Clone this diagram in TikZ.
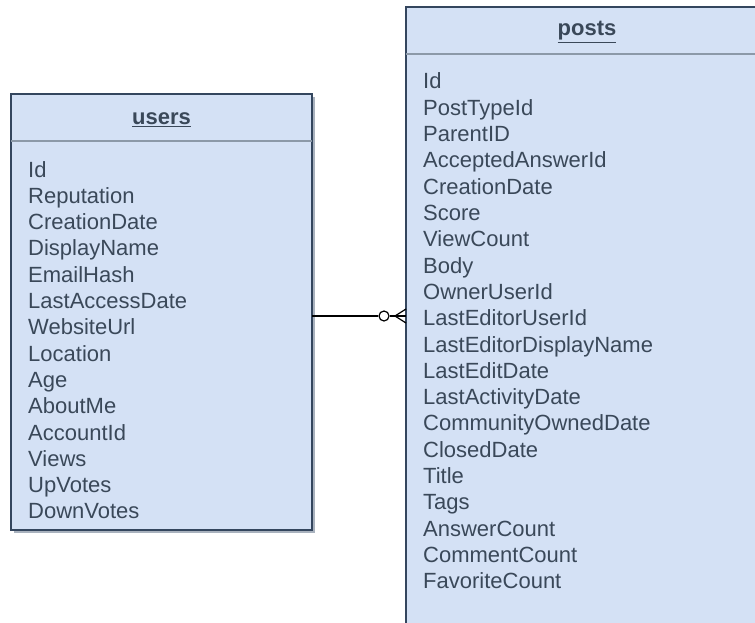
\documentclass[tikz,border=0pt]{standalone}
\usepackage{fontspec}
\setmainfont{Liberation Sans}
\definecolor{boxfill}{HTML}{D4E1F5}
\definecolor{boxborder}{HTML}{34465E}
\definecolor{sepline}{HTML}{8C99A8}
\definecolor{txt}{HTML}{3A4859}
\definecolor{shadowc}{HTML}{A9B2BE}
\begin{document}
\begin{tikzpicture}[x=1pt,y=-1pt,
  entity/.style={draw=boxborder,line width=1.6pt,fill=boxfill},
  sep/.style={draw=sepline,line width=1.4pt},
  field/.style={anchor=base west,inner sep=0pt,text=txt,font=\fontsize{22}{26}\selectfont},
  title/.style={anchor=base,inner sep=0pt,text=txt,font=\fontsize{22}{26}\selectfont\bfseries},
  conn/.style={draw=black,line width=1.2pt}]
\useasboundingbox (0,0) rectangle (755,623);
\clip (0,0) rectangle (755,623);
\fill (0,0) rectangle (755,623) [white];
% users table
\fill[shadowc] (14,97) rectangle (315,533);
\draw[entity] (11,94) rectangle (312,530);
\coordinate (uR) at (312,316);
\draw[sep] (11,141) -- (312,141);
\node[title] (ut) at (161.5,125) {\underline{users}};
\foreach \t [count=\i] in {Id,Reputation,CreationDate,DisplayName,EmailHash,LastAccessDate,WebsiteUrl,Location,Age,AboutMe,AccountId,Views,UpVotes,DownVotes}
  \node[field] (u\i) at (28,{177+26.3*(\i-1)}) {\t};
% posts table
\draw[entity] (406,7) rectangle (768,640);
\coordinate (pL) at (406,316);
\draw[sep] (406,54) -- (768,54);
\node[title] (pt) at (587,36) {\underline{posts}};
\foreach \t [count=\i] in {Id,PostTypeId,ParentID,AcceptedAnswerId,CreationDate,Score,ViewCount,Body,OwnerUserId,LastEditorUserId,LastEditorDisplayName,LastEditDate,LastActivityDate,CommunityOwnedDate,ClosedDate,Title,Tags,AnswerCount,CommentCount,FavoriteCount}
  \node[field] (p\i) at (423,{89+26.3*(\i-1)}) {\t};
% relationship: one to zero-or-many
\coordinate (cf) at (395,316);
\node[draw=black,line width=1.2pt,fill=white,circle,minimum size=10pt,inner sep=0pt] (circ) at (384,316) {};
\draw[conn] (uR) -- (circ.west);
\draw[conn] (circ.east) -- (pL);
\draw[conn] (cf) -- (406,309);
\draw[conn] (cf) -- (406,323);
\end{tikzpicture}
\end{document}
